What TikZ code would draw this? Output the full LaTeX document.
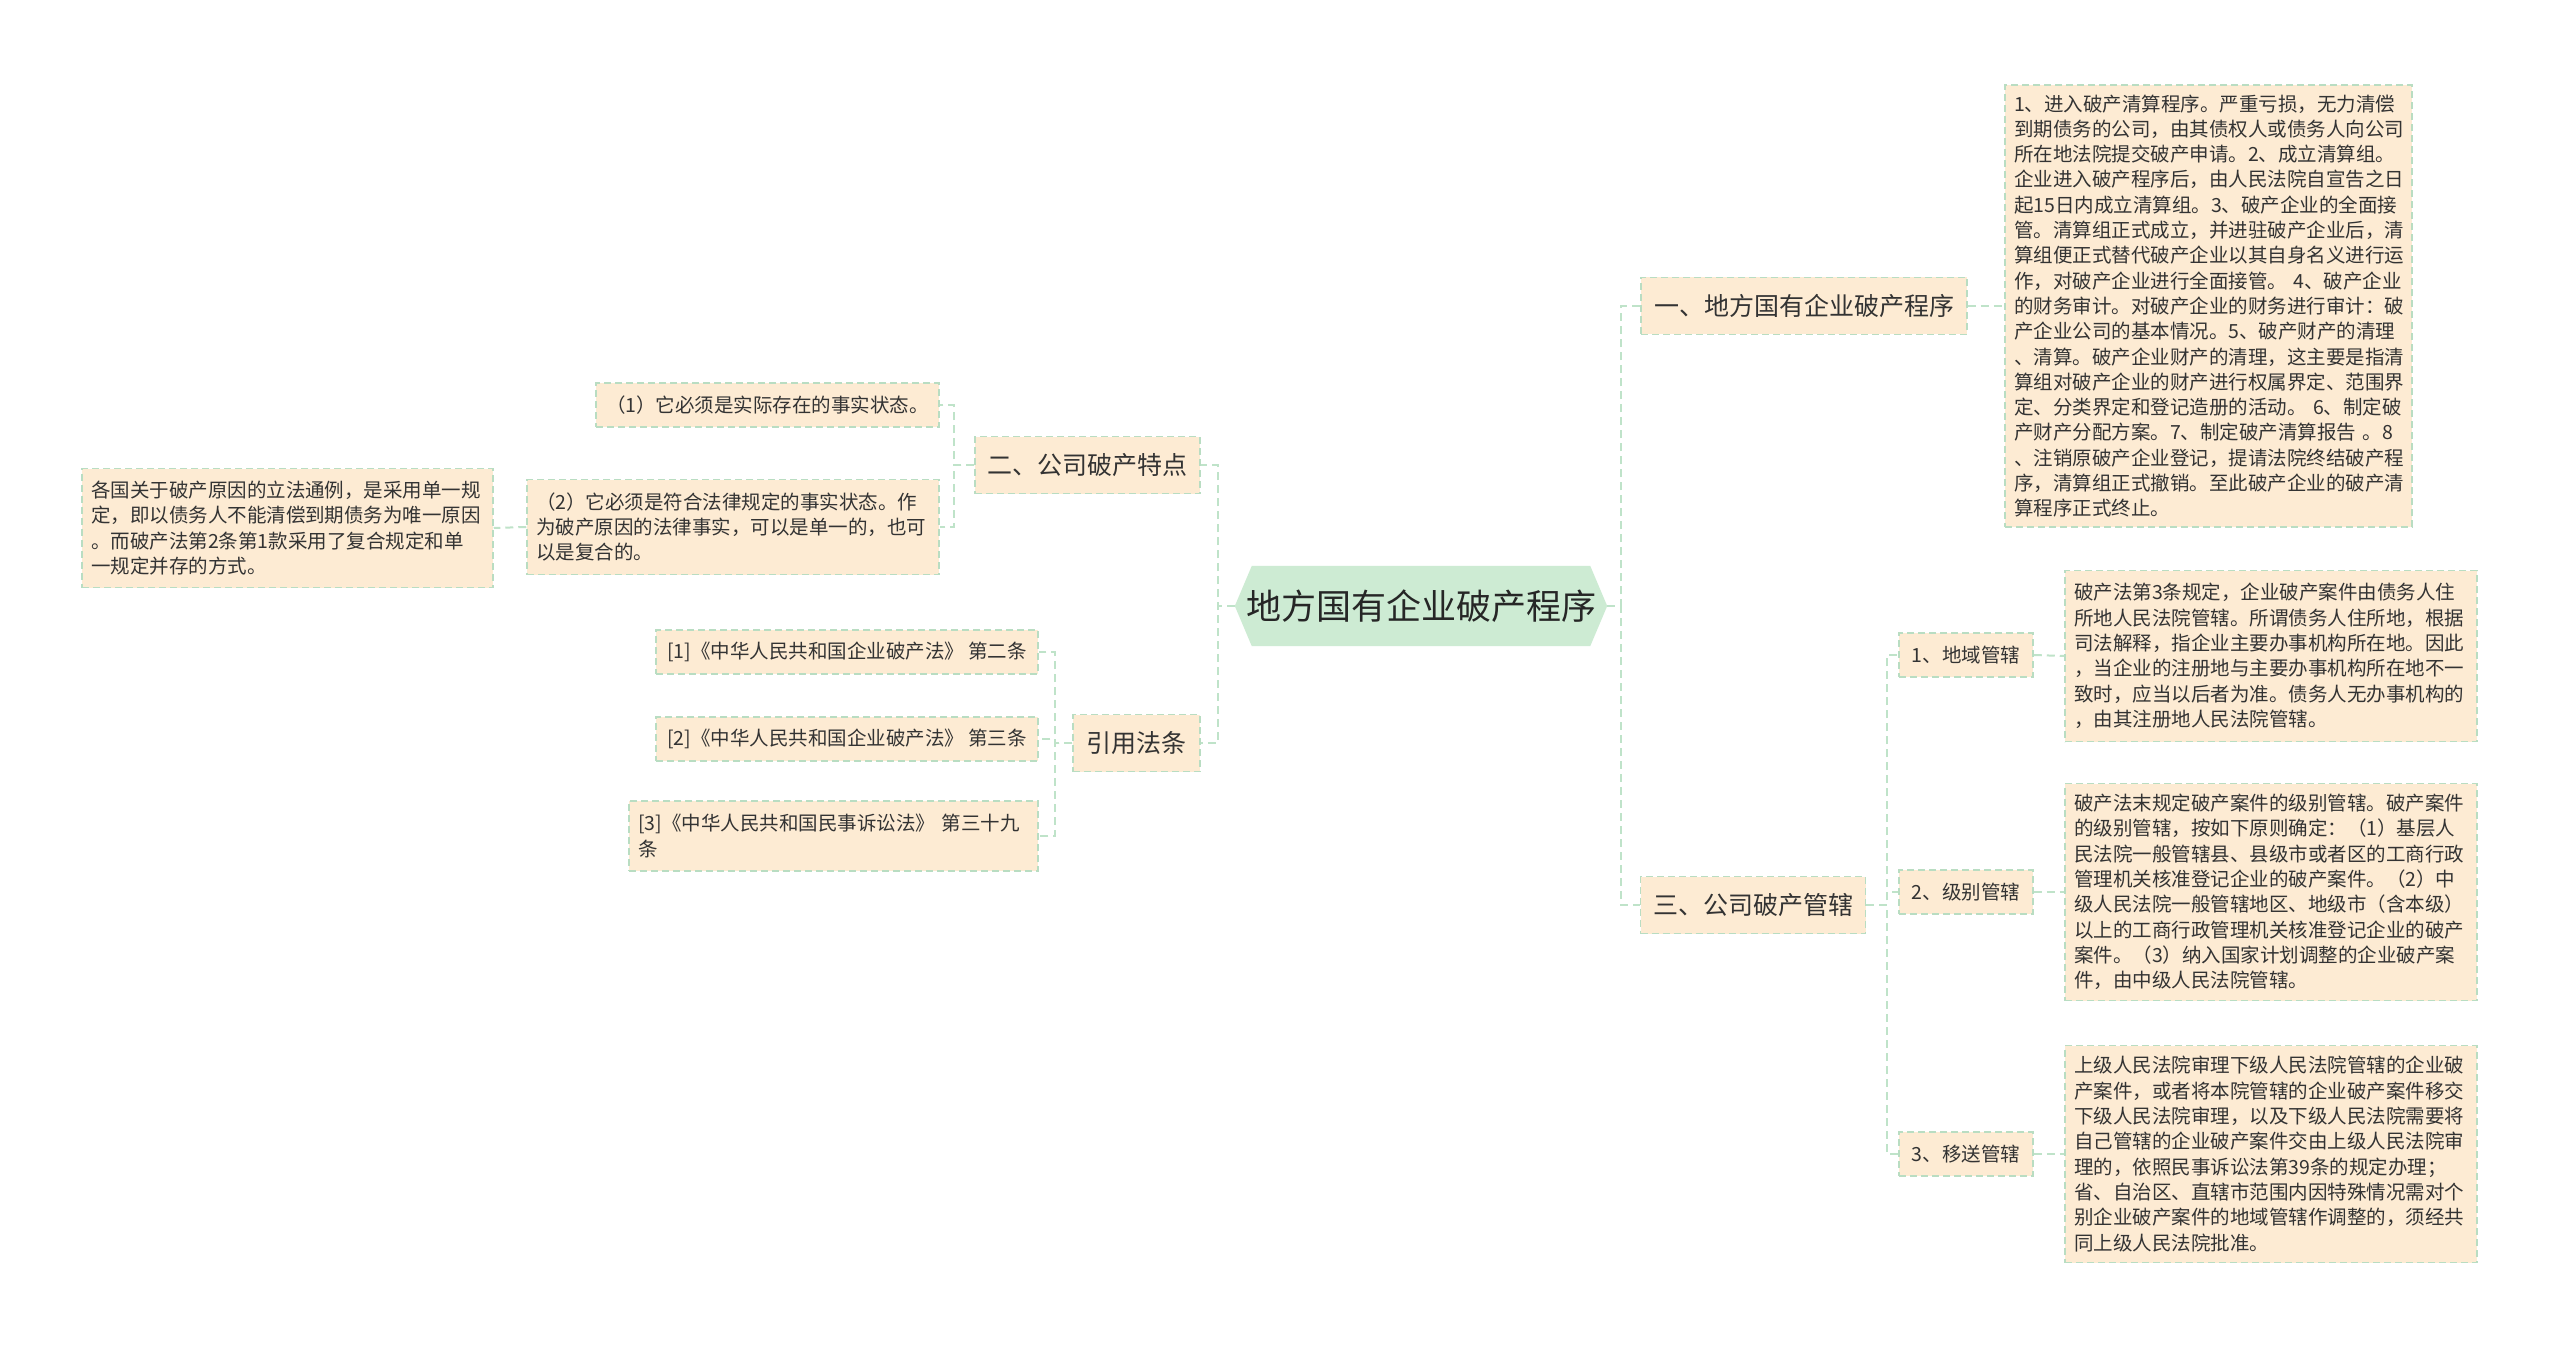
\documentclass[tikz,border=0pt]{standalone}
\usepackage{fontspec}
\setmainfont{Noto Sans CJK SC}
\usetikzlibrary{calc}
\pgfdeclarelayer{background}
\pgfsetlayers{background,main}
\definecolor{boxfill}{HTML}{FDEBD3}
\definecolor{boxline}{HTML}{B9DDC2}
\definecolor{connline}{HTML}{BFE3C9}
\definecolor{rootfill}{HTML}{CDEBD3}
\definecolor{txt}{HTML}{333333}
\tikzset{
 box/.style={fill=boxfill, draw=boxline, line width=1.5pt, dash pattern=on 7pt off 4pt, text=txt, inner sep=0pt, anchor=center},
 hbox/.style={box, font=\fontsize{25}{30}\selectfont, minimum height=57pt},
 sbox/.style={box, font=\fontsize{19.5}{25.3}\selectfont, minimum height=44pt},
 dbox/.style={box, font=\fontsize{19.5}{25.3}\selectfont, align=left, inner xsep=9pt},
 conn/.style={draw=connline, line width=2pt, dash pattern=on 8pt off 5pt},
}
\begin{document}
\begin{tikzpicture}[x=1pt,y=-1pt]
\begin{pgfonlayer}{background}
\fill[white] (0,0) rectangle (2560,1348);
\end{pgfonlayer}
\useasboundingbox (0,0) rectangle (2560,1348);

% root
\node[font=\fontsize{35}{42}\selectfont, text=black!85, minimum width=372pt, minimum height=80pt, inner sep=0pt] (root) at (1421,606) {地方国有企业破产程序};
\begin{pgfonlayer}{background}
\fill[rootfill] (root.west) -- ($(root.north west)+(17,0)$) -- ($(root.north east)+(-17,0)$) -- (root.east) -- ($(root.south east)+(-17,0)$) -- ($(root.south west)+(17,0)$) -- cycle;
\end{pgfonlayer}

% right side
\node[hbox, minimum width=326pt] (La) at (1804,306) {一、地方国有企业破产程序};
\node[hbox, minimum width=225pt] (Lc) at (1753,905) {三、公司破产管辖};
\node[dbox, text width=389pt, minimum height=442pt] (Da) at (2208.5,306) {1、进入破产清算程序。严重亏损，无力清偿\\到期债务的公司，由其债权人或债务人向公司\\所在地法院提交破产申请。2、成立清算组。\\企业进入破产程序后，由人民法院自宣告之日\\起15日内成立清算组。3、破产企业的全面接\\管。清算组正式成立，并进驻破产企业后，清\\算组便正式替代破产企业以其自身名义进行运\\作，对破产企业进行全面接管。~4、破产企业\\的财务审计。对破产企业的财务进行审计：破\\产企业公司的基本情况。5、破产财产的清理\\、清算。破产企业财产的清理，这主要是指清\\算组对破产企业的财产进行权属界定、范围界\\定、分类界定和登记造册的活动。~6、制定破\\产财产分配方案。7、制定破产清算报告~。8\\、注销原破产企业登记，提请法院终结破产程\\序，清算组正式撤销。至此破产企业的破产清\\算程序正式终止。};

\node[sbox, minimum width=134pt] (Ma) at (1966,655) {1、地域管辖};
\node[sbox, minimum width=134pt] (Mb) at (1966,892) {2、级别管辖};
\node[sbox, minimum width=134pt] (Mc) at (1966,1154) {3、移送管辖};

\node[dbox, text width=394pt, minimum height=171pt] (Ea) at (2271,656) {破产法第3条规定，企业破产案件由债务人住\\所地人民法院管辖。所谓债务人住所地，根据\\司法解释，指企业主要办事机构所在地。因此\\，当企业的注册地与主要办事机构所在地不一\\致时，应当以后者为准。债务人无办事机构的\\，由其注册地人民法院管辖。};
\node[dbox, text width=394pt, minimum height=217pt] (Eb) at (2271,892) {破产法末规定破产案件的级别管辖。破产案件\\的级别管辖，按如下原则确定：（1）基层人\\民法院一般管辖县、县级市或者区的工商行政\\管理机关核准登记企业的破产案件。（2）中\\级人民法院一般管辖地区、地级市（含本级）\\以上的工商行政管理机关核准登记企业的破产\\案件。（3）纳入国家计划调整的企业破产案\\件，由中级人民法院管辖。};
\node[dbox, text width=394pt, minimum height=217pt] (Ec) at (2271,1154) {上级人民法院审理下级人民法院管辖的企业破\\产案件，或者将本院管辖的企业破产案件移交\\下级人民法院审理，以及下级人民法院需要将\\自己管辖的企业破产案件交由上级人民法院审\\理的，依照民事诉讼法第39条的规定办理；\\省、自治区、直辖市范围内因特殊情况需对个\\别企业破产案件的地域管辖作调整的，须经共\\同上级人民法院批准。};

% left side
\node[hbox, minimum width=225pt] (Lb) at (1087.5,465) {二、公司破产特点};
\node[hbox, minimum width=127pt] (Ld) at (1136.5,743) {引用法条};

\node[sbox, minimum width=343pt] (Pa) at (767.5,405) {（1）它必须是实际存在的事实状态。};
\node[dbox, text width=394pt, minimum height=95pt] (Pb) at (733,527) {（2）它必须是符合法律规定的事实状态。作\\为破产原因的法律事实，可以是单一的，也可\\以是复合的。};
\node[dbox, text width=393pt, minimum height=119pt] (Pc) at (287.5,528) {各国关于破产原因的立法通例，是采用单一规\\定，即以债务人不能清偿到期债务为唯一原因\\。而破产法第2条第1款采用了复合规定和单\\一规定并存的方式。};

\node[sbox, minimum width=382pt] (Ra) at (847,652) {[1]《中华人民共和国企业破产法》~第二条};
\node[sbox, minimum width=382pt] (Rb) at (847,739) {[2]《中华人民共和国企业破产法》~第三条};
\node[dbox, text width=391pt, minimum height=70pt] (Rc) at (833.5,836) {[3]《中华人民共和国民事诉讼法》~第三十九\\条};

% connectors
\draw[conn] (root.east) -- ++(14,0) |- (La.west);
\draw[conn] (root.east) -- ++(14,0) |- (Lc.west);
\draw[conn] (La.east) -- (Da.west);
\draw[conn] (Lc.east) -- ++(21,0) |- (Ma.west);
\draw[conn] (Lc.east) -- ++(21,0) |- (Mb.west);
\draw[conn] (Lc.east) -- ++(21,0) |- (Mc.west);
\draw[conn] (Ma.east) -- (Ea.west);
\draw[conn] (Mb.east) -- (Eb.west);
\draw[conn] (Mc.east) -- (Ec.west);

\draw[conn] (root.west) -- ++(-17,0) |- (Lb.east);
\draw[conn] (root.west) -- ++(-17,0) |- (Ld.east);
\draw[conn] (Lb.west) -- ++(-20,0) |- (Pa.east);
\draw[conn] (Lb.west) -- ++(-20,0) |- (Pb.east);
\draw[conn] (Pb.west) -- (Pc.east);
\draw[conn] (Ld.west) -- ++(-17,0) |- (Ra.east);
\draw[conn] (Ld.west) -- ++(-17,0) |- (Rb.east);
\draw[conn] (Ld.west) -- ++(-17,0) |- (Rc.east);
\end{tikzpicture}
\end{document}
